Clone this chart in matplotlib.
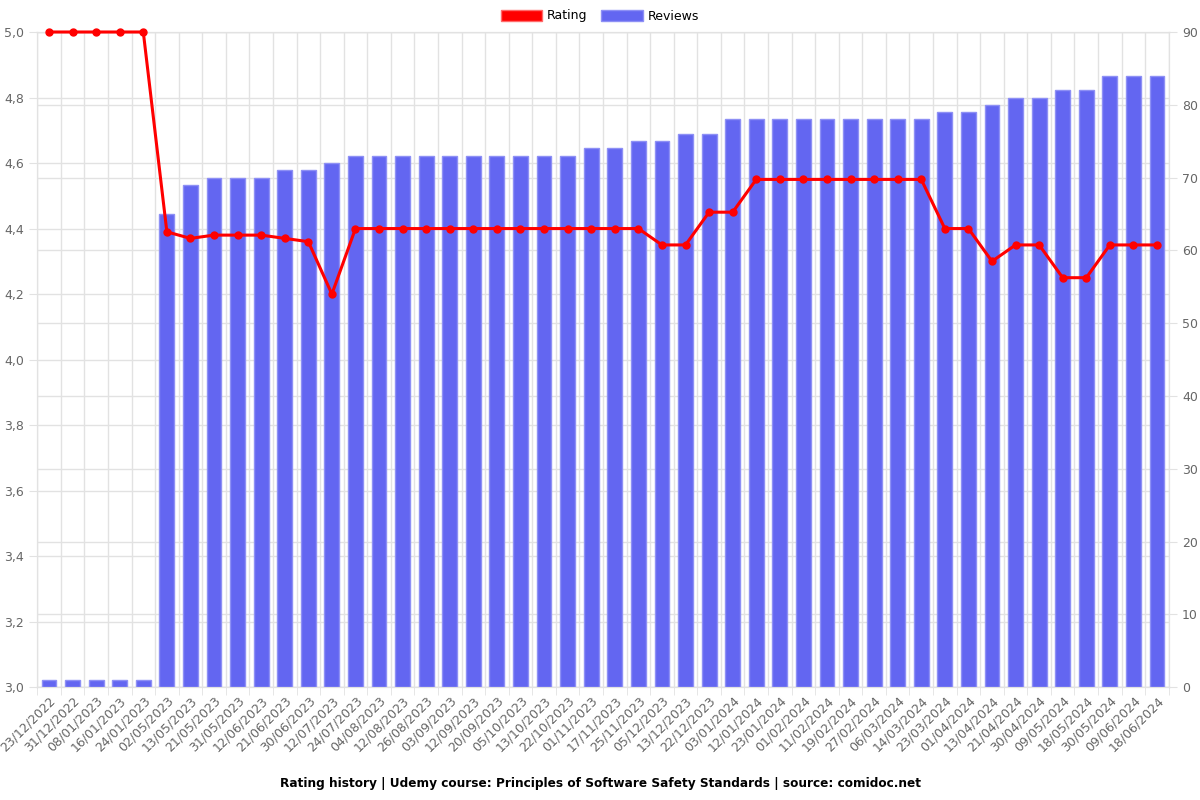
import matplotlib
matplotlib.use("Agg")
import matplotlib.pyplot as plt
from matplotlib.patches import Patch
from matplotlib.ticker import FuncFormatter, MultipleLocator, FixedLocator

# Data
dates = ["23/12/2022", "31/12/2022", "08/01/2023", "16/01/2023", "24/01/2023",
         "02/05/2023", "13/05/2023", "21/05/2023", "31/05/2023", "12/06/2023",
         "21/06/2023", "30/06/2023", "12/07/2023", "24/07/2023", "04/08/2023",
         "12/08/2023", "26/08/2023", "03/09/2023", "12/09/2023", "20/09/2023",
         "05/10/2023", "13/10/2023", "22/10/2023", "01/11/2023", "17/11/2023",
         "25/11/2023", "05/12/2023", "13/12/2023", "22/12/2023", "03/01/2024",
         "12/01/2024", "23/01/2024", "01/02/2024", "11/02/2024", "19/02/2024",
         "27/02/2024", "06/03/2024", "14/03/2024", "23/03/2024", "01/04/2024",
         "13/04/2024", "21/04/2024", "30/04/2024", "09/05/2024", "18/05/2024",
         "30/05/2024", "09/06/2024", "18/06/2024"]

reviews = [1, 1, 1, 1, 1,
           65, 69, 70, 70, 70,
           71, 71, 72, 73, 73,
           73, 73, 73, 73, 73,
           73, 73, 73, 74, 74,
           75, 75, 76, 76, 78,
           78, 78, 78, 78, 78,
           78, 78, 78, 79, 79,
           80, 81, 81, 82, 82,
           84, 84, 84]

rating = [5.0, 5.0, 5.0, 5.0, 5.0,
          4.39, 4.37, 4.38, 4.38, 4.38,
          4.37, 4.36, 4.2, 4.4, 4.4,
          4.4, 4.4, 4.4, 4.4, 4.4,
          4.4, 4.4, 4.4, 4.4, 4.4,
          4.4, 4.35, 4.35, 4.45, 4.45,
          4.55, 4.55, 4.55, 4.55, 4.55,
          4.55, 4.55, 4.55, 4.4, 4.4,
          4.3, 4.35, 4.35, 4.25, 4.25,
          4.35, 4.35, 4.35]

title = "Rating history | Udemy course: Principles of Software Safety Standards | source: comidoc.net"

bar_color = "#6366f1"
bar_edge = "#8e90f5"
line_color = "#ff0000"
grid_color = "#e2e2e2"
text_color = "#666666"

x = list(range(len(dates)))

fig = plt.figure(figsize=(12, 8), dpi=100)
ax = fig.add_axes([0.031, 0.141, 0.943, 0.819])
ax2 = ax.twinx()
ax3 = ax.twinx()

# left axis: rating scale + grid
ax.set_xlim(-0.5, len(dates) - 0.5)
ax.set_ylim(3.0, 5.0)
ax.yaxis.set_major_locator(MultipleLocator(0.2))
ax.yaxis.set_major_formatter(FuncFormatter(lambda v, p: f"{v:.1f}".replace(".", ",")))
ax.set_xticks(x)
ax.set_xticklabels(dates, rotation=45, ha="right", rotation_mode="anchor")
ax.xaxis.set_minor_locator(FixedLocator([i - 0.5 for i in range(len(dates) + 1)]))
ax.tick_params(axis="x", which="major", length=0, pad=5, labelsize=9, labelcolor=text_color)
ax.tick_params(axis="x", which="minor", length=6, color=grid_color)
ax.tick_params(axis="y", length=6, color=grid_color, labelsize=9, labelcolor=text_color)
ax.grid(True, which="minor", axis="x", color=grid_color, linewidth=1)
ax.grid(True, which="major", axis="y", color=grid_color, linewidth=1)
for s in ax.spines.values():
    s.set_color(grid_color)

# right axis: reviews bars
bars = ax2.bar(x, reviews, width=0.63, color=bar_color, edgecolor=bar_edge, linewidth=1, zorder=2)
ax2.set_ylim(0, 90)
ax2.yaxis.set_major_locator(MultipleLocator(10))
ax2.tick_params(axis="y", length=6, color=grid_color, labelsize=9, labelcolor=text_color)
ax2.grid(True, axis="y", color=grid_color, linewidth=1, zorder=0)
ax2.set_axisbelow(True)
for s in ax2.spines.values():
    s.set_color(grid_color)

# rating line on top
ax3.set_ylim(3.0, 5.0)
ax3.plot(x, rating, color=line_color, linewidth=2.2, marker="o", markersize=5, clip_on=False, zorder=5)
ax3.axis("off")

handles = [Patch(facecolor=line_color, edgecolor="#ff6b6b", linewidth=1, label="Rating"),
           Patch(facecolor=bar_color, edgecolor=bar_edge, linewidth=1, label="Reviews")]
fig.legend(handles=handles, loc="center", bbox_to_anchor=(0.5, 0.98), ncol=2, frameon=False,
           fontsize=9, handlelength=3.3, handleheight=1.0, columnspacing=1.1, handletextpad=0.4)

fig.text(0.5, 0.021, title, ha="center", va="center", fontsize=8.7, fontweight="bold")

plt.savefig("out.png", dpi=100)
